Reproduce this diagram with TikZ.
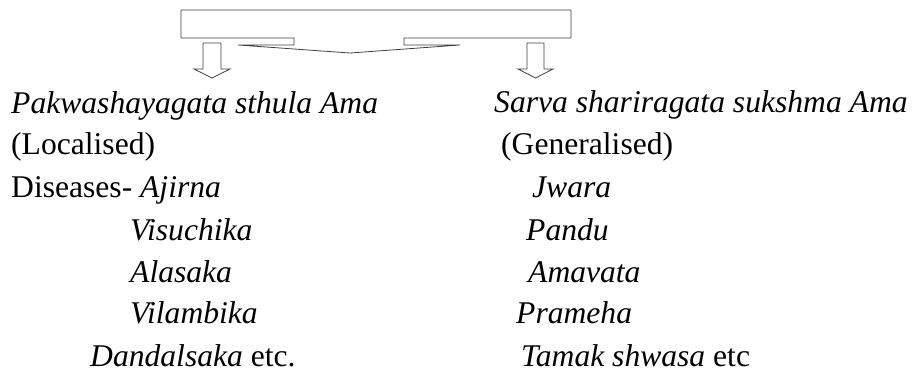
\documentclass[tikz,border=0pt]{standalone}
\usepackage{fontspec}
\setmainfont{Liberation Serif}

\begin{document}
\begin{tikzpicture}[
	x=1pt, y=-1pt,
	t/.style = {anchor=base west, inner sep=0pt, font=\fontsize{31.6}{38}\selectfont},
	b/.style = {draw=black!75, line width=0.8pt, line join=miter}
	]
	\useasboundingbox (0, 0) rectangle (916, 376);
	
	% === === === Box === === ===
	\draw[b] (181, 10) -- (571, 10) -- (571, 38) -- (404, 38) -- (404, 45) -- (460, 45)
		-- (350, 53) -- (238, 45) -- (294, 45) -- (294, 38) -- (181, 38) -- cycle;
	
	% === === === Arrows === === ===
	\draw[b] (203, 43) -- (221, 43) -- (221, 69) -- (230, 69) -- (212, 78) -- (194, 69) -- (203, 69) -- cycle;
	\draw[b] (527, 43) -- (544, 43) -- (544, 69) -- (553, 69) -- (535.5, 78) -- (518, 69) -- (527, 69) -- cycle;
	
	% === === === Left === === ===
	\node[t]	(l-0)	at	(11, 113)	{\itshape Pakwashayagata sthula Ama};
	\node[t]	(l-1)	at	(11, 154)	{(Localised)};
	\node[t]	(l-2)	at	(11, 197)	{Diseases- \itshape Ajirna};
	\node[t]	(l-3)	at	(130, 240)	{\itshape Visuchika};
	\node[t]	(l-4)	at	(130, 282)	{\itshape Alasaka};
	\node[t]	(l-5)	at	(130, 323)	{\itshape Vilambika};
	\node[t]	(l-6)	at	(90, 366)	{\textit{Dandalsaka} etc.};
	
	% === === === Right === === ===
	\node[t]	(r-0)	at	(494, 112)	{\itshape Sarva shariragata sukshma Ama};
	\node[t]	(r-1)	at	(501, 154)	{(Generalised)};
	\node[t]	(r-2)	at	(532, 197)	{\itshape Jwara};
	\node[t]	(r-3)	at	(526, 240)	{\itshape Pandu};
	\node[t]	(r-4)	at	(528, 282)	{\itshape Amavata};
	\node[t]	(r-5)	at	(516, 323)	{\itshape Prameha};
	\node[t]	(r-6)	at	(521, 366)	{\textit{Tamak shwasa} etc};
	
\end{tikzpicture}
\end{document}
